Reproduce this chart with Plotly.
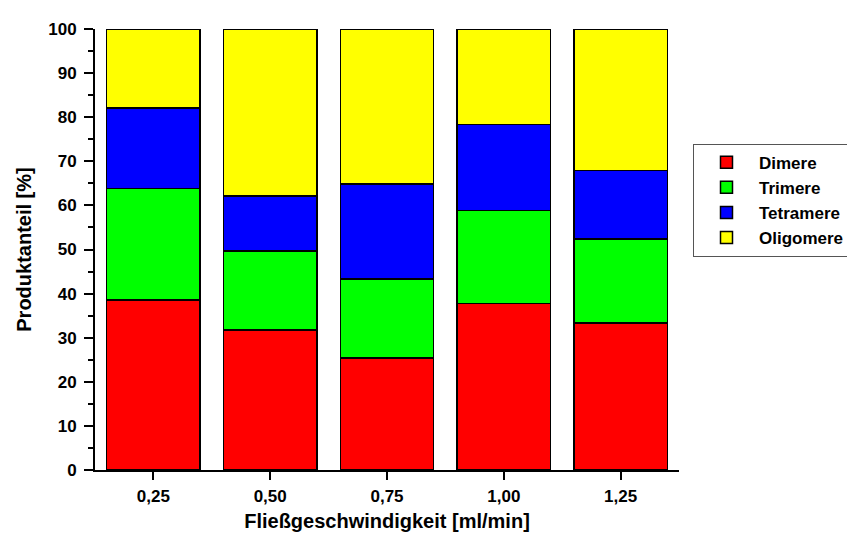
import plotly.graph_objects as go

categories = ["0,25", "0,50", "0,75", "1,00", "1,25"]
dimere = [38.6, 31.8, 25.4, 37.8, 33.3]
trimere = [25.2, 17.9, 17.9, 21.1, 19.1]
tetramere = [18.3, 12.4, 21.6, 19.5, 15.5]
oligomere = [17.9, 37.9, 35.1, 21.6, 32.1]

series = [
    ("Dimere", dimere, "#ff0000"),
    ("Trimere", trimere, "#00ff00"),
    ("Tetramere", tetramere, "#0000ff"),
    ("Oligomere", oligomere, "#ffff00"),
]

fig = go.Figure()
for name, vals, col in series:
    fig.add_trace(go.Bar(
        x=categories, y=vals, name=name,
        marker=dict(color=col, line=dict(color="black", width=1.5)),
        width=0.8,
    ))

font_family = "Liberation Sans, Arial, sans-serif"
fig.update_layout(
    barmode="stack",
    width=855, height=535,
    margin=dict(l=87, r=184, t=21, b=73),
    plot_bgcolor="white", paper_bgcolor="white",
    font=dict(family=font_family, color="black"),
    legend=dict(
        x=(685 - 87) / (855 - 87 - 184), y=0.74, xanchor="left", yanchor="top",
        xref="paper", yref="paper",
        bordercolor="#555555", borderwidth=1,
        font=dict(size=17, family=font_family, weight="bold"),
        traceorder="normal", tracegroupgap=0,
        itemwidth=55,
    ),
    xaxis=dict(
        range=[-0.5, 4.5], automargin=False,
        showline=True, linecolor="black", linewidth=2,
        ticks="outside", ticklen=8, tickwidth=2, tickcolor="black",
        ticklabelstandoff=2,
        tickfont=dict(size=17, weight="bold"),
        title=dict(text="Fließgeschwindigkeit [ml/min]", font=dict(size=20, weight="bold"), standoff=9),
        showgrid=False, zeroline=False,
    ),
    yaxis=dict(
        range=[0, 100], automargin=False,
        showline=True, linecolor="black", linewidth=2,
        ticks="outside", ticklen=9, tickwidth=2, tickcolor="black",
        ticklabelstandoff=4,
        dtick=10, tick0=0,
        minor=dict(ticks="outside", ticklen=5, tickwidth=1.5, tickcolor="black", dtick=5),
        tickfont=dict(size=17, weight="bold"),
        title=dict(text="Produktanteil [%]", font=dict(size=20, weight="bold"), standoff=11),
        showgrid=False, zeroline=False,
    ),
)

fig.write_html("out.html")
